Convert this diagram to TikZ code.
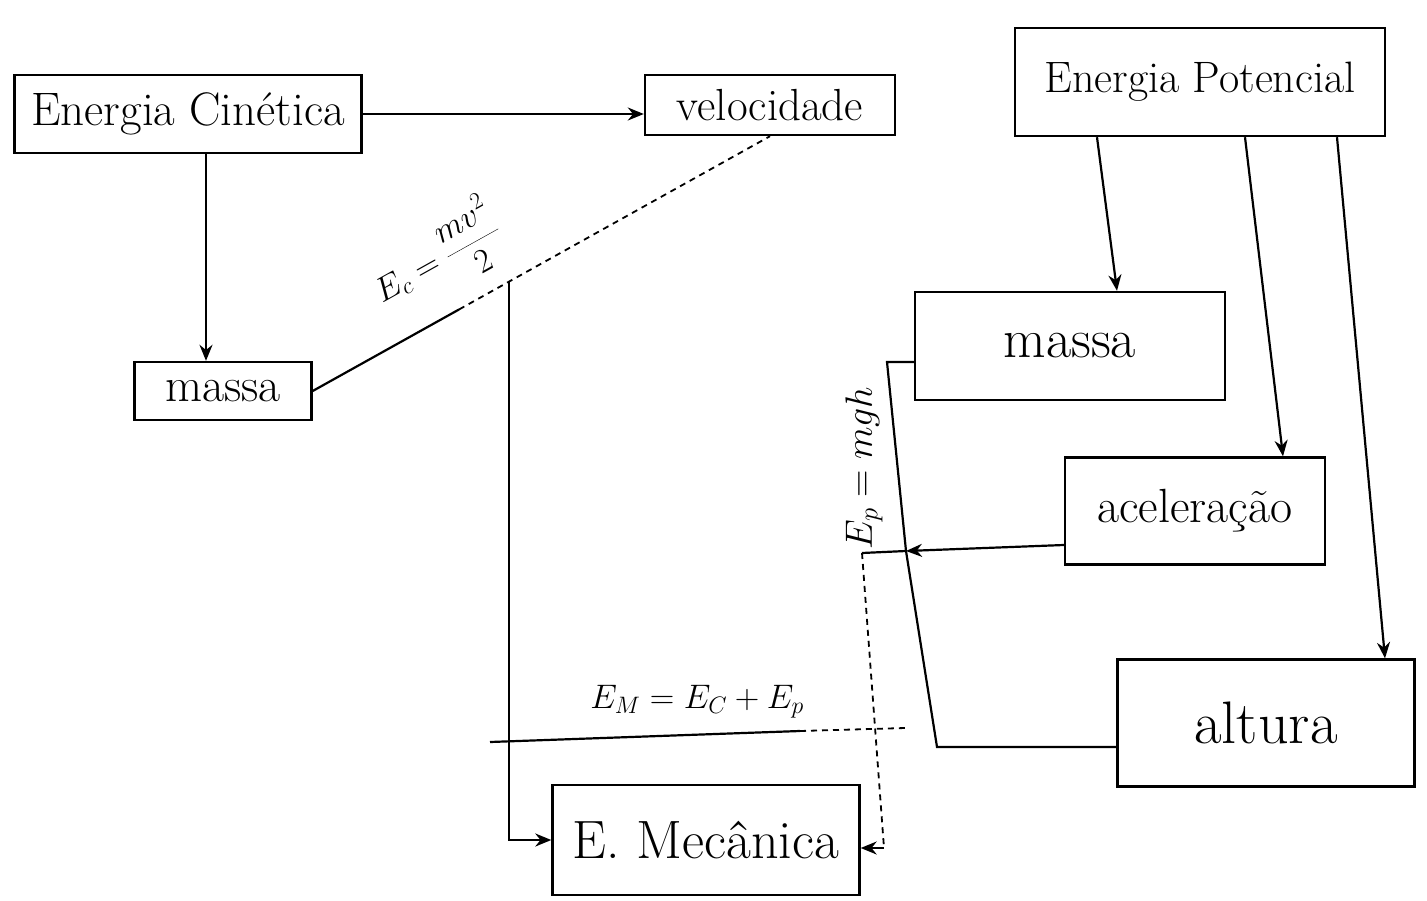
\RequirePackage{fix-cm}
\documentclass[tikz,border=0pt]{standalone}
\usetikzlibrary{arrows.meta,calc}
\begin{document}
\begin{tikzpicture}[x=1pt,y=-1pt,
  box/.style={draw, line width=2.4pt, inner sep=0pt},
  conn/.style={line width=2.2pt},
  dconn/.style={line width=1.8pt, dash pattern=on 6pt off 5pt},
  arr/.style={conn, -{Stealth[length=16pt,width=13pt]}},
  lbl/.style={font=\fontsize{34}{38}\selectfont}]
\useasboundingbox[fill=white] (0,0) rectangle (1427,900);

% nodes
\node[box, minimum width=347pt, minimum height=78pt, font=\fontsize{47}{50}\selectfont] (ec) at (188,114) {Energia Cinética};
\node[box, minimum width=250pt, minimum height=60pt, font=\fontsize{45}{48}\selectfont] (vel) at (770,105) {velocidade};
\node[box, minimum width=177pt, minimum height=58pt, font=\fontsize{48}{50}\selectfont] (m1) at (223,391) {massa};
\node[box, minimum width=370pt, minimum height=108pt, font=\fontsize{44}{48}\selectfont] (ep) at (1200,82) {Energia Potencial};
\node[box, minimum width=310pt, minimum height=108pt, font=\fontsize{55}{58}\selectfont] (m2) at (1070,346) {massa};
\node[box, minimum width=260pt, minimum height=107pt, font=\fontsize{48}{52}\selectfont] (ac) at (1195,511) {aceleração};
\node[box, minimum width=297pt, minimum height=127pt, font=\fontsize{60}{64}\selectfont] (al) at (1266,723) {altura};
\node[box, minimum width=307pt, minimum height=110pt, font=\fontsize{54}{58}\selectfont] (em) at (706,840) {E. Mecânica};

% kinetic side
\draw[arr] (ec.east) -- (ec.east -| vel.west);
\draw[arr] ([xshift=18pt]ec.south) -- ([xshift=18pt]ec.south |- m1.north);
\coordinate (k1) at ($(m1.east)!0.32!(vel.south)$);
\coordinate (j1) at ($(m1.east)!0.43!(vel.south)$);
\draw[conn] (m1.east) -- (k1);
\draw[dconn] (k1) -- (vel.south);
\path (m1.east) -- (vel.south) node[pos=0.33, sloped, above=16pt, lbl] (lec) {$\displaystyle E_c=\frac{mv^2}{2}$};
\draw[arr] (j1) -- (j1 |- em.west) -- (em.west);

% potential side
\draw[arr] ([xshift=-103pt]ep.south) -- ([xshift=47pt]m2.north);
\draw[arr] ([xshift=45pt]ep.south) -- ([xshift=88pt]ac.north);
\draw[arr] ([xshift=137pt]ep.south) -- ([xshift=119pt]al.north);

\coordinate (c2) at (887,362);
\coordinate (j2) at (906,551);
\coordinate (b2) at (937,747);
\coordinate (c3) at (862,553);
\coordinate (c4) at (884,848);
\draw[conn] ([yshift=-16pt]m2.west) -- (c2) -- (j2) -- (b2) -- (b2 -| al.west);
\draw[arr] ([yshift=-34pt]ac.west) -- (j2);
\draw[conn] (j2) -- (c3);
\draw[dconn] (c3) -- (c4);
\draw[arr] (c4) -- (c4 -| em.east);
\node[lbl, rotate=90, font=\fontsize{38}{42}\selectfont] (lep) at (864,468) {$E_p = mgh$};

% mechanical energy relation
\coordinate (h1) at (490,742);
\coordinate (hm) at (800,731);
\coordinate (h2) at (905,728);
\draw[conn] (h1) -- (hm);
\draw[dconn] (hm) -- (h2);
\node[lbl] (lem) at (697,702) {$E_M = E_C + E_p$};
\end{tikzpicture}
\end{document}
